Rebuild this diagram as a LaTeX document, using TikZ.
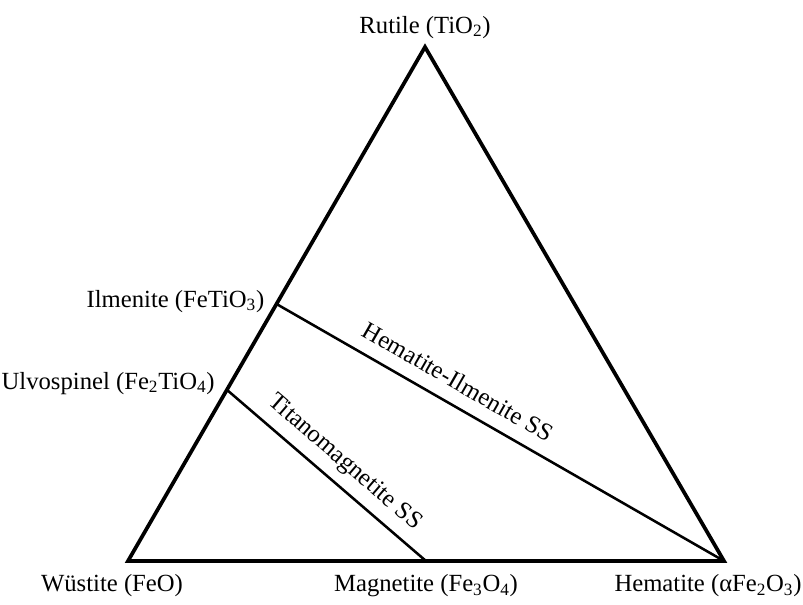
\documentclass[tikz,border=0pt]{standalone}
\usepackage{fontspec}
\setmainfont{Liberation Serif}
\usepackage{tikz}
\usetikzlibrary{positioning, calc}
\tikzset{
  edge/.style={line width=2.8pt, line join=miter},
  ssline/.style={line width=1.9pt},
  lbl/.style={font=\fontsize{18.5}{22}\selectfont, inner sep=2pt},
  sslbl/.style={font=\fontsize{18.5}{22}\selectfont, inner sep=2pt, sloped}
}

\begin{document}
\begin{tikzpicture}[x=0.75pt, y=0.75pt]
  \useasboundingbox (0,0) rectangle (803,605);
  % corners of the ternary plot
  \coordinate (wus) at (128,44);
  \coordinate (hem) at (724,44);
  \coordinate (rut) at (425,558);
  \coordinate (mag) at ($(wus)!0.5!(hem)$);
  \coordinate (ilm) at ($(wus)!0.5!(rut)$);
  \coordinate (ulv) at ($(wus)!0.333!(rut)$);
  \draw[edge] (wus) -- (hem) -- (rut) -- cycle;
  % solid solution series
  \draw[ssline] (ilm) -- node[sslbl, above=8pt, pos=0.38] {Hematite-Ilmenite SS} (hem);
  \draw[ssline] (ulv) -- node[sslbl, above=5pt, pos=0.52] {Titanomagnetite SS} (mag);
  % end members
  \node[lbl, above=4pt of rut] (rutlbl) {Rutile (TiO\textsubscript{2})};
  \node[lbl, left=7pt of ilm, yshift=2pt] (ilmlbl) {Ilmenite (FeTiO\textsubscript{3})};
  \node[lbl, left=7pt of ulv, yshift=5pt] (ulvlbl) {Ulvospinel (Fe\textsubscript{2}TiO\textsubscript{4})};
  \node[lbl, below=8pt of wus, xshift=-12pt] (wuslbl) {Wüstite (FeO)};
  \node[lbl, below=8pt of mag] (maglbl) {Magnetite (Fe\textsubscript{3}O\textsubscript{4})};
  \node[lbl, below=8pt of hem, xshift=-12pt] (hemlbl) {Hematite (αFe\textsubscript{2}O\textsubscript{3})};
\end{tikzpicture}
\end{document}
